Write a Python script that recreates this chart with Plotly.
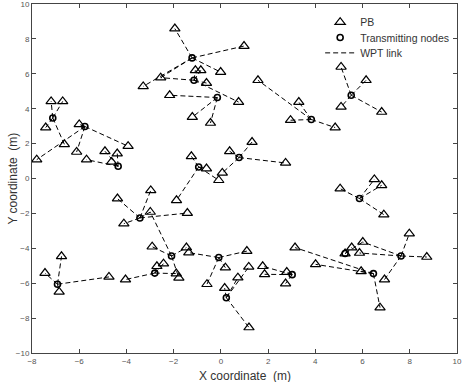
import plotly.graph_objects as go

# Transmitting nodes
node_x = [-7.12, -5.76, -4.35, -3.43, -2.09, -2.80, -6.92, -1.22, -1.14, -0.15, 3.83,
          5.52, 5.87, -0.94, 0.77, -0.09, 0.23, 3.02, 6.46, 5.26, 7.63]
node_y = [3.47, 2.98, 0.70, -2.26, -4.44, -5.42, -6.06, 6.91, 5.63, 4.64, 3.38,
          4.77, -1.15, 0.66, 1.20, -4.53, -6.83, -5.51, -5.45, -4.30, -4.44]

# Power beacons (PB)
pb_x = [-7.19, -6.70, -7.42, -6.63, -7.80, -6.00, -6.11, -3.93, -5.69, -4.63,
        -4.91, -4.39, -4.38, -2.97, -4.11, -2.99, -1.42, -2.91, -1.46, -1.36,
        -1.78, -2.71, -2.43, -1.89, -4.04, -6.75, -7.45, -6.85, -4.74, 1.10,
        0.19, -0.59, 0.16, 0.72, 1.18, 1.19, 1.77, 1.85, 2.79, 2.74,
        3.14, 4.01, 5.54, 6.01, 5.87, 5.94, 6.93, 6.74, 8.72, 7.98,
        5.26, 5.05, 6.50, 6.81, 6.90, 4.84, 5.09, 6.15, 5.09, 6.81,
        1.57, 3.30, 2.95, -1.95, 0.98, -2.55, -3.29, -0.01, -1.08, -0.85,
        -0.61, 0.75, -2.17, -1.21, -0.44, -1.25, -0.61, -0.09, -1.88, 0.37,
        1.32, 2.74, 0.06]
pb_y = [4.42, 4.42, 2.92, 1.96, 1.08, 3.10, 1.52, 1.85, 1.08, 0.95,
        1.56, 1.43, -1.15, -0.68, -2.59, -1.92, -1.98, -3.91, -3.96, -4.25,
        -5.70, -5.03, -4.88, -5.45, -5.79, -4.46, -5.42, -6.50, -5.64, -4.16,
        -5.11, -6.06, -6.28, -5.68, -5.07, -8.54, -5.03, -5.49, -5.36, -6.02,
        -3.96, -4.92, -3.96, -3.64, -4.27, -5.32, -5.79, -7.40, -4.50, -3.16,
        -4.30, -0.58, -0.05, -0.39, -2.07, 2.92, 6.39, 5.63, 4.10, 3.81,
        5.63, 4.38, 3.34, 8.59, 7.59, 5.78, 5.28, 6.10, 6.20, 6.20,
        5.47, 4.38, 4.77, 3.52, 3.18, 1.27, 0.57, -0.10, -1.25, 1.56,
        2.09, 0.89, 0.32]

# WPT links: node index -> PB index
link_node = [0, 0, 0, 0, 1, 1, 1, 1, 2, 2, 2, 2, 3, 3, 3, 3, 3,
             4, 4, 4, 4, 5, 5, 5, 5, 6, 6, 6, 6,
             15, 15, 15, 15, 16, 16, 16, 16, 17, 17, 17, 17,
             18, 18, 18, 18, 19, 19, 19, 20, 20, 20, 20, 20,
             12, 12, 12, 12, 10, 10, 10, 10, 11, 11, 11, 11,
             7, 7, 7, 7, 7, 8, 8, 8, 8, 8, 9, 9, 9,
             13, 13, 13, 13, 14, 14, 14, 14]
link_pb = [0, 1, 2, 3, 4, 5, 6, 7, 8, 9, 10, 11, 12, 13, 14, 15, 16,
           15, 17, 18, 20, 21, 22, 23, 24, 25, 26, 27, 28,
           19, 29, 30, 31, 32, 33, 34, 35, 36, 37, 38, 39,
           40, 41, 45, 47, 42, 43, 50, 44, 46, 48, 49, 43,
           51, 52, 53, 54, 55, 60, 61, 62, 56, 57, 58, 59,
           63, 64, 65, 66, 67, 65, 68, 69, 70, 71, 72, 73, 74,
           75, 76, 77, 78, 79, 80, 81, 82]

x_title = "X coordinate  (m)"
y_title = "Y coordinate  (m)"

lx, ly = [], []
for n, p in zip(link_node, link_pb):
    lx += [node_x[n], pb_x[p], None]
    ly += [node_y[n], pb_y[p], None]

fig = go.Figure()
fig.add_trace(go.Scatter(x=lx, y=ly, mode="lines", name="WPT link", legend="legend3",
                         line=dict(color="black", width=1, dash="5px,3px")))
fig.add_trace(go.Scatter(x=pb_x, y=pb_y, mode="markers", name="PB", legend="legend",
                         marker=dict(symbol="triangle-up-open", size=9, color="black",
                                     line=dict(width=1.2, color="black"))))
fig.add_trace(go.Scatter(x=node_x, y=node_y, mode="markers", name="Transmitting nodes",
                         legend="legend2",
                         marker=dict(symbol="circle-open", size=6, color="black",
                                     line=dict(width=1.6, color="black"))))

axis_common = dict(showgrid=False, zeroline=False, showline=True, linecolor="#444",
                   linewidth=1, mirror="ticks", ticks="inside", ticklen=4,
                   automargin=False, ticklabeloverflow="allow",
                   tickcolor="#444", tickfont=dict(size=8, color="#555",
                                                   family="Liberation Sans"))
fig.update_xaxes(range=[-8, 10], dtick=2, tick0=-8, **axis_common)
fig.update_yaxes(range=[-10, 10], dtick=2, tick0=-10, **axis_common)

title_font = dict(size=12, color="#333", family="Liberation Sans")
fig.add_annotation(text=x_title, xref="paper", yref="paper", x=0.5, y=-0.066,
                   xanchor="center", yanchor="middle", showarrow=False, font=title_font)
fig.add_annotation(text=y_title, xref="paper", yref="paper", x=-0.047, y=0.5,
                   xanchor="center", yanchor="middle", textangle=-90, showarrow=False,
                   font=title_font)

leg_font = dict(size=10.5, color="#333", family="Liberation Sans")
leg_common = dict(x=0.678, xanchor="left", yanchor="middle", bgcolor="rgba(255,255,255,0)",
                  font=leg_font, itemwidth=30)
fig.update_layout(width=463, height=382, plot_bgcolor="white", paper_bgcolor="white",
                  margin=dict(l=32, r=6, t=4, b=29),
                  legend=dict(y=0.948, **leg_common),
                  legend2=dict(y=0.904, **leg_common),
                  legend3=dict(y=0.860, **leg_common),
                  showlegend=True)
fig.write_html("out.html", config={"displayModeBar": False},
               post_script="document.body.style.margin='0';")
